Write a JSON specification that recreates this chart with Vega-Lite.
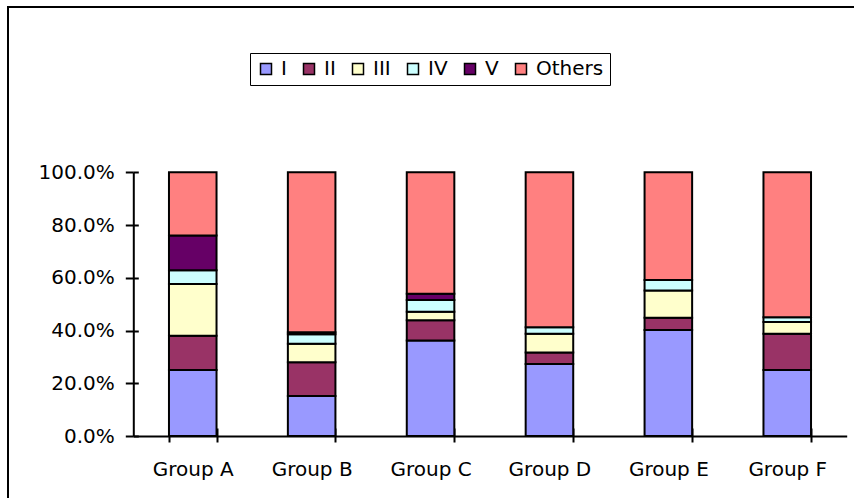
{
  "$schema": "https://vega.github.io/schema/vega-lite/v6.json",
  "width": 849,
  "height": 494,
  "autosize": {"type": "none"},
  "padding": {"left": 8, "top": 7, "right": -3, "bottom": -3},
  "background": "white",
  "config": {
    "view": {"stroke": "black", "strokeWidth": 2},
    "font": "DejaVu Sans"
  },
  "data": {
    "values": [
      {"group": "Group A", "series": "I", "value": 25.0},
      {"group": "Group A", "series": "II", "value": 13.0},
      {"group": "Group A", "series": "III", "value": 19.6},
      {"group": "Group A", "series": "IV", "value": 5.3},
      {"group": "Group A", "series": "V", "value": 13.1},
      {"group": "Group A", "series": "Others", "value": 24.0},
      {"group": "Group B", "series": "I", "value": 15.2},
      {"group": "Group B", "series": "II", "value": 12.8},
      {"group": "Group B", "series": "III", "value": 7.0},
      {"group": "Group B", "series": "IV", "value": 3.6},
      {"group": "Group B", "series": "V", "value": 0.7},
      {"group": "Group B", "series": "Others", "value": 60.7},
      {"group": "Group C", "series": "I", "value": 36.2},
      {"group": "Group C", "series": "II", "value": 7.7},
      {"group": "Group C", "series": "III", "value": 3.2},
      {"group": "Group C", "series": "IV", "value": 4.5},
      {"group": "Group C", "series": "V", "value": 2.3},
      {"group": "Group C", "series": "Others", "value": 46.1},
      {"group": "Group D", "series": "I", "value": 27.3},
      {"group": "Group D", "series": "II", "value": 4.4},
      {"group": "Group D", "series": "III", "value": 7.1},
      {"group": "Group D", "series": "IV", "value": 2.4},
      {"group": "Group D", "series": "Others", "value": 58.8},
      {"group": "Group E", "series": "I", "value": 40.2},
      {"group": "Group E", "series": "II", "value": 4.6},
      {"group": "Group E", "series": "III", "value": 10.4},
      {"group": "Group E", "series": "IV", "value": 4.0},
      {"group": "Group E", "series": "Others", "value": 40.8},
      {"group": "Group F", "series": "I", "value": 25.0},
      {"group": "Group F", "series": "II", "value": 13.8},
      {"group": "Group F", "series": "III", "value": 4.4},
      {"group": "Group F", "series": "IV", "value": 1.8},
      {"group": "Group F", "series": "Others", "value": 55.0}
    ]
  },
  "transform": [
    {"calculate": "indexof(['I','II','III','IV','V','Others'], datum.series)", "as": "rank"}
  ],
  "resolve": {"axis": {"x": "independent", "y": "independent"}},
  "layer": [
    {
      "mark": {"type": "bar", "stroke": "black", "strokeWidth": 2},
      "encoding": {
        "x": {
          "field": "group",
          "type": "nominal",
          "scale": {"range": [125.3, 838.7], "paddingInner": 0.6, "paddingOuter": 0.3},
          "axis": {
            "orient": "bottom",
            "offset": -65,
            "title": null,
            "tickBand": "extent",
            "labelAngle": 0,
            "domainColor": "black",
            "domainWidth": 2,
            "tickColor": "black",
            "tickWidth": 2,
            "tickSize": 6,
            "labelFont": "DejaVu Sans",
            "labelFontSize": 20,
            "labelColor": "black",
            "labelPadding": 17
          }
        },
        "y": {
          "field": "value",
          "type": "quantitative",
          "stack": "normalize",
          "scale": {"domain": [0, 1], "range": [429, 165.3]},
          "axis": {
            "orient": "left",
            "offset": -125.3,
            "title": null,
            "grid": false,
            "values": [0, 0.2, 0.4, 0.6, 0.8, 1],
            "labelExpr": "format(datum.value, '.1%')",
            "domainColor": "black",
            "domainWidth": 2,
            "tickColor": "black",
            "tickWidth": 2,
            "tickSize": 8,
            "labelFont": "DejaVu Sans",
            "labelFontSize": 20,
            "labelColor": "black",
            "labelPadding": 11
          }
        },
        "color": {
          "field": "series",
          "type": "nominal",
          "scale": {
            "domain": ["I", "II", "III", "IV", "V", "Others"],
            "range": ["#9999FF", "#993366", "#FFFFCC", "#CCFFFF", "#660066", "#FF8080"]
          },
          "legend": {
            "orient": "none",
            "legendX": 242,
            "legendY": 46,
            "direction": "horizontal",
            "title": null,
            "strokeColor": "black",
            "padding": 6,
            "labelFont": "DejaVu Sans",
            "labelFontSize": 20,
            "labelColor": "black",
            "symbolType": "square",
            "symbolSize": 121,
            "symbolStrokeColor": "black",
            "symbolStrokeWidth": 1.5,
            "labelOffset": 5,
            "columnPadding": 12
          }
        },
        "order": {"field": "rank", "type": "quantitative"}
      }
    },
    {
      "mark": {"type": "bar", "opacity": 0},
      "encoding": {
        "x": {
          "field": "group",
          "type": "nominal",
          "axis": {
            "orient": "bottom",
            "offset": -65,
            "title": null,
            "tickBand": "extent",
            "labels": false,
            "domain": false,
            "tickColor": "black",
            "tickWidth": 2,
            "tickSize": -8
          }
        },
        "y": {
          "field": "value",
          "type": "quantitative",
          "stack": "normalize",
          "axis": {
            "orient": "left",
            "offset": -125.3,
            "title": null,
            "grid": false,
            "values": [0, 0.2, 0.4, 0.6, 0.8, 1],
            "labels": false,
            "domain": false,
            "tickColor": "black",
            "tickWidth": 2,
            "tickSize": -5
          }
        }
      }
    }
  ]
}
